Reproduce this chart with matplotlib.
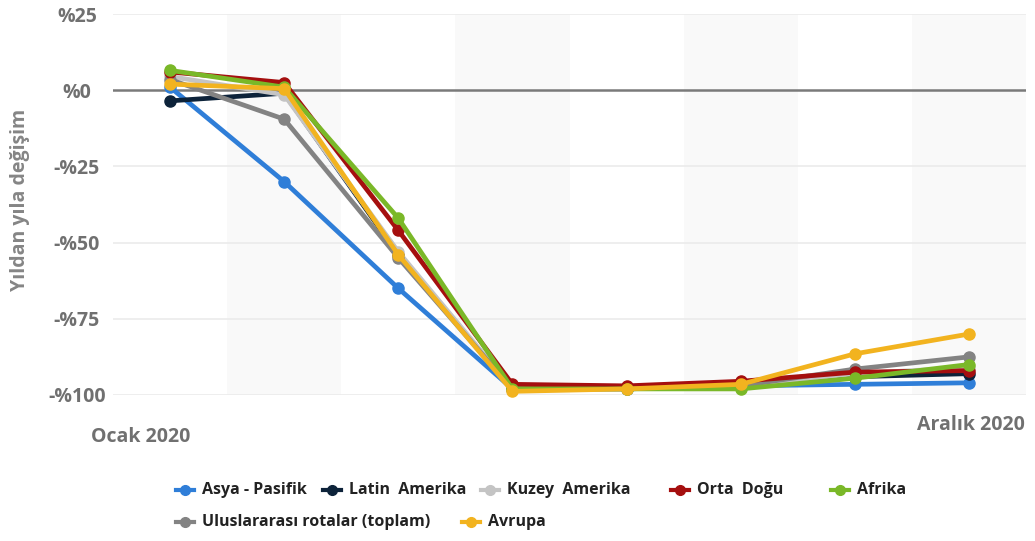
import matplotlib
matplotlib.use("Agg")
import matplotlib.pyplot as plt
from matplotlib.lines import Line2D

# Monthly year-over-year change in passenger traffic, 2020
months = ["Ocak 2020", "Şubat", "Mart", "Nisan", "Mayıs", "Haziran", "Temmuz", "Aralık 2020"]

asya_pasifik = [1, -30, -65, -98, -98, -97, -96.5, -96]
latin_amerika = [-3.5, -1, -54, -98, -97.5, -97, -94, -93]
kuzey_amerika = [4.5, -1.5, -53, -98, -98, -97, -93, -91]
orta_dogu = [6, 2.5, -46, -96.5, -97, -95.5, -92.5, -92]
afrika = [6.5, 1, -42, -98, -98, -98, -94.5, -90]
uluslararasi = [3.5, -9.5, -55, -98, -98, -97, -91.5, -87.5]
avrupa = [2, 0.5, -54, -98.8, -98, -96.5, -86.5, -80]

series = [
    ("Asya - Pasifik", asya_pasifik, "#2f7ed8"),
    ("Latin  Amerika", latin_amerika, "#0d233a"),
    ("Kuzey  Amerika", kuzey_amerika, "#c4c4c4"),
    ("Uluslararası rotalar (toplam)", uluslararasi, "#838383"),
    ("Orta  Doğu", orta_dogu, "#a50f0f"),
    ("Afrika", afrika, "#7ab828"),
    ("Avrupa", avrupa, "#f2b31f"),
]

y_ticks = [25, 0, -25, -50, -75, -100]
y_labels = ["%25", "%0", "-%25", "-%50", "-%75", "-%100"]

W, H = 1035, 541
fig = plt.figure(figsize=(W / 100, H / 100), dpi=100)
ax = fig.add_axes([113 / W, 1 - 395 / H, (1026 - 113) / W, (395 - 14) / H])

x = list(range(len(months)))
ax.set_xlim(-0.5, len(months) - 0.5)
ax.set_ylim(-100, 25)

# alternating column bands
for i in x:
    if i % 2 == 1:
        ax.axvspan(i - 0.5, i + 0.5, color="#f9f9f9", lw=0, zorder=0)

for t in y_ticks:
    if t == 0:
        ax.axhline(t, color="#7a7a7a", lw=1.8, zorder=1)
    else:
        ax.axhline(t, color="#ebebeb", lw=1.2, zorder=1)

for name, vals, col in series:
    ax.plot(x, vals, color=col, lw=3.4, marker="o", markersize=8,
            solid_joinstyle="round", clip_on=False, zorder=3)

for s in ax.spines.values():
    s.set_visible(False)
ax.set_xticks([])
ax.set_yticks(y_ticks)
ax.set_yticklabels(y_labels)
ax.tick_params(axis="y", length=0, pad=26)
for lab in ax.get_yticklabels():
    lab.set_horizontalalignment("center")
    lab.set_fontfamily("Open Sans")
    lab.set_fontweight("bold")
    lab.set_fontsize(14)
    lab.set_color("#707070")

fig.text(20 / W, 1 - 200 / H, "Yıldan yıla değişim", rotation=90,
         ha="center", va="center", fontsize=14, fontweight="bold",
         family="Open Sans", color="#858585")

fig.text(141 / W, 1 - 437 / H, months[0], ha="center", va="center",
         fontsize=14, fontweight="bold", family="Open Sans", color="#707070")
fig.text(971 / W, 1 - 425 / H, months[-1], ha="center", va="center",
         fontsize=14, fontweight="bold", family="Open Sans", color="#707070")

# legend entries laid out in two rows
legend_items = [
    ("Asya - Pasifik", "#2f7ed8", 185, 490),
    ("Latin  Amerika", "#0d233a", 332, 490),
    ("Kuzey  Amerika", "#c4c4c4", 490, 490),
    ("Orta  Doğu", "#a50f0f", 680, 490),
    ("Afrika", "#7ab828", 840, 490),
    ("Uluslararası rotalar (toplam)", "#838383", 185, 522),
    ("Avrupa", "#f2b31f", 471, 522),
]
for label, col, px, py in legend_items:
    fy = 1 - py / H
    fig.add_artist(Line2D([(px - 9) / W, (px + 9) / W], [fy, fy], color=col,
                          lw=3, transform=fig.transFigure))
    fig.add_artist(Line2D([px / W], [fy], color=col, marker="o", markersize=7,
                          transform=fig.transFigure))
    fig.text((px + 17) / W, fy, label, ha="left", va="center", fontsize=11.5,
             fontweight="bold", family="Open Sans", color="#222222")

fig.savefig("out.png", dpi=100, facecolor="white")
